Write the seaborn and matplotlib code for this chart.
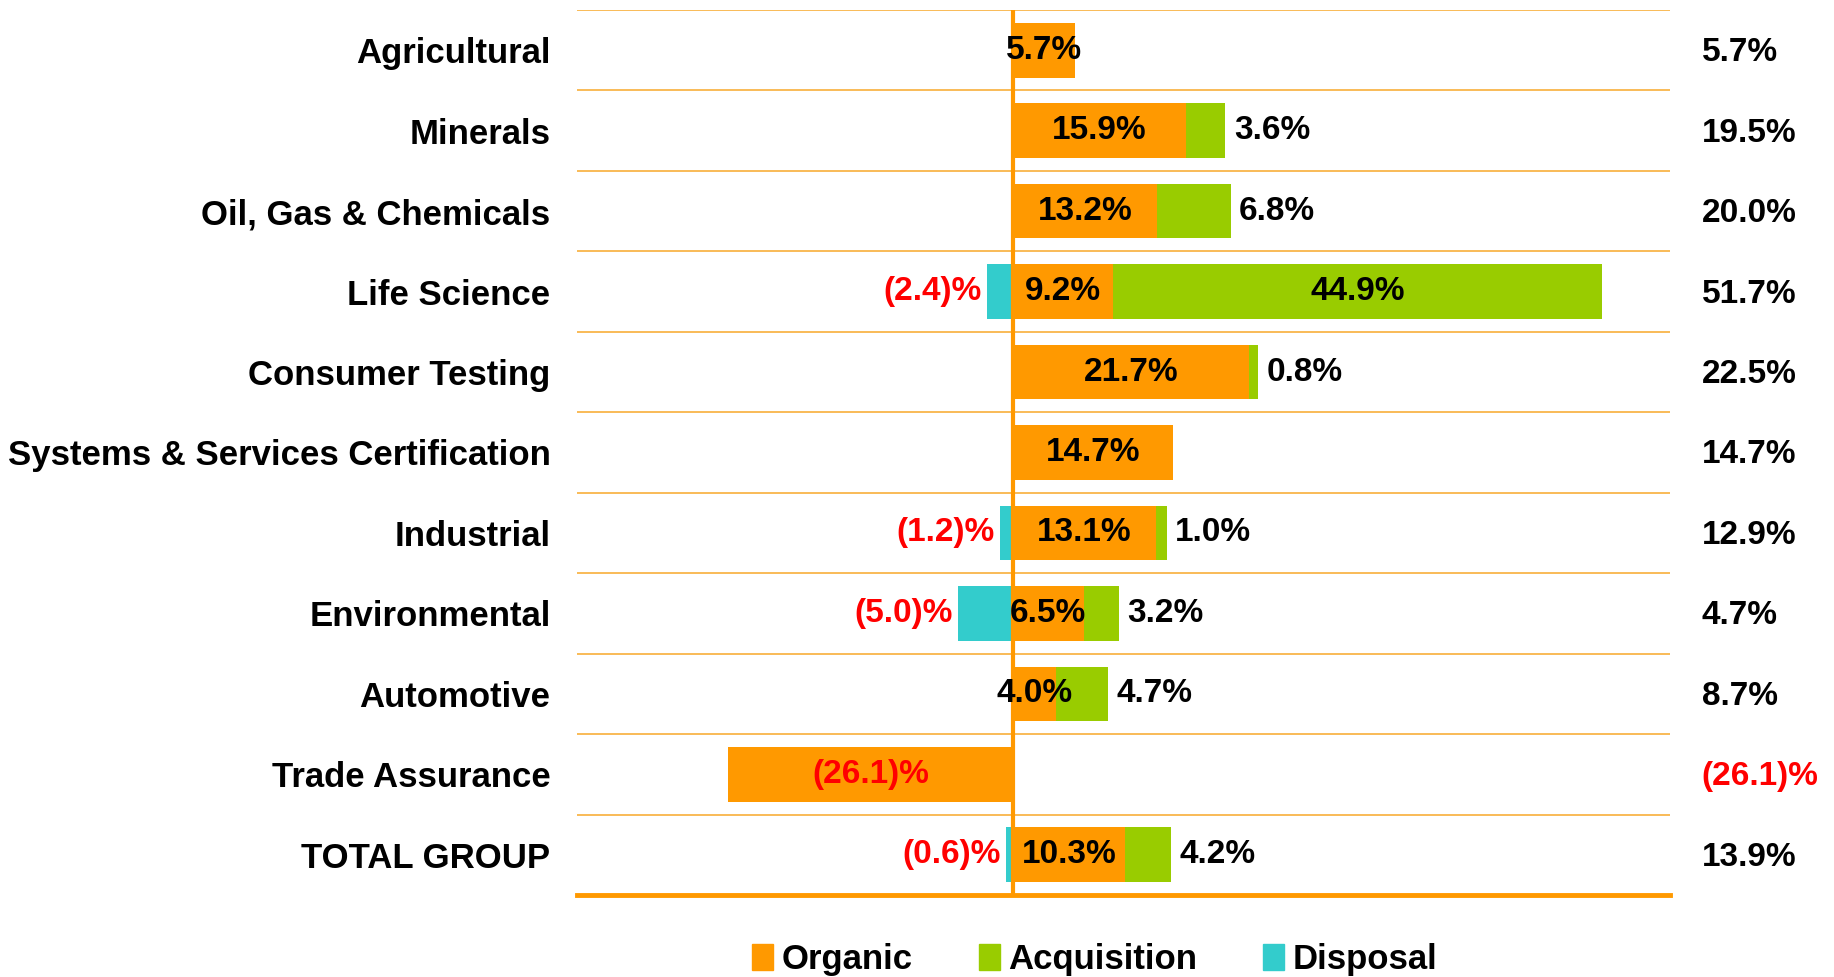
import pandas as pd
import seaborn as sns
import matplotlib.pyplot as plt
from matplotlib.patches import Patch

# data
categories = [
    "Agricultural",
    "Minerals",
    "Oil, Gas & Chemicals",
    "Life Science",
    "Consumer Testing",
    "Systems & Services Certification",
    "Industrial",
    "Environmental",
    "Automotive",
    "Trade Assurance",
    "TOTAL GROUP",
]
organic = [5.7, 15.9, 13.2, 9.2, 21.7, 14.7, 13.1, 6.5, 4.0, -26.1, 10.3]
acquisition = [0, 3.6, 6.8, 44.9, 0.8, 0, 1.0, 3.2, 4.7, 0, 4.2]
disposal = [0, 0, 0, -2.4, 0, 0, -1.2, -5.0, 0, 0, -0.6]
total = [5.7, 19.5, 20.0, 51.7, 22.5, 14.7, 12.9, 4.7, 8.7, -26.1, 13.9]

ORANGE = "#FF9900"
GREEN = "#99CC00"
CYAN = "#33CCCC"
GRID = "#F9B54A"

df = pd.DataFrame({
    "category": categories,
    "organic": organic,
    "acquisition": acquisition,
    "disposal": disposal,
    "total": total,
})
df["stack"] = df["organic"] + df["acquisition"]

sns.set_style("white")
plt.rcParams["font.family"] = ["Liberation Sans", "DejaVu Sans"]
plt.rcParams["font.weight"] = "bold"
plt.rcParams["text.color"] = "black"
plt.rcParams["ytick.color"] = "black"

fig = plt.figure(figsize=(18.34, 9.77), dpi=100)
ax = fig.add_axes([577 / 1834, 1 - 895 / 977, 1093 / 1834, 885 / 977])

# stacked bars: acquisition stack first, organic on top, disposal to the left
bar_kw = dict(y="category", order=categories, saturation=1, width=0.68,
              orient="h", ax=ax, linewidth=0)
sns.barplot(data=df, x="stack", color=GREEN, zorder=2, **bar_kw)
sns.barplot(data=df, x="organic", color=ORANGE, zorder=3, **bar_kw)
sns.barplot(data=df, x="disposal", color=CYAN, zorder=3, **bar_kw)

ax.set_xlim(-40, 60.3)
ax.set_ylim(len(categories) - 0.5, -0.5)
ax.set_xlabel("")
ax.set_ylabel("")
ax.set_xticks([])

# row separators
ax.set_yticks([i + 0.5 for i in range(-1, len(categories) - 1)], minor=True)
ax.grid(True, which="minor", axis="y", color=GRID, lw=1.3)
ax.tick_params(axis="y", which="both", length=0, pad=19, labelsize=25, labelcolor="black")
for t in ax.get_yticklabels():
    t.set_fontweight("bold")

for s in ["top", "left", "right"]:
    ax.spines[s].set_visible(False)
ax.spines["bottom"].set_color(ORANGE)
ax.spines["bottom"].set_linewidth(3.5)
ax.axvline(0, color=ORANGE, lw=3, zorder=5)

fs = 24
for i, row in df.iterrows():
    if row["organic"] != 0:
        col = "red" if row["organic"] < 0 else "black"
        lab = f"({abs(row['organic']):.1f})%" if row["organic"] < 0 else f"{row['organic']:.1f}%"
        ax.text(row["organic"] / 2, i, lab, ha="center", va="center",
                fontsize=fs, fontweight="bold", color=col, zorder=6)
    if row["acquisition"] > 10:
        ax.text(row["organic"] + row["acquisition"] / 2, i, f"{row['acquisition']:.1f}%",
                ha="center", va="center", fontsize=fs, fontweight="bold",
                color="black", zorder=6)
    elif row["acquisition"] > 0:
        ax.annotate(f"{row['acquisition']:.1f}%", (row["stack"], i), xytext=(6, 0),
                    textcoords="offset points", ha="left", va="center",
                    fontsize=fs, fontweight="bold", color="black", zorder=6)
    if row["disposal"] < 0:
        ax.annotate(f"({abs(row['disposal']):.1f})%", (row["disposal"], i), xytext=(-4, 0),
                    textcoords="offset points", ha="right", va="center",
                    fontsize=fs, fontweight="bold", color="red", zorder=6)
    tcol = "red" if row["total"] < 0 else "black"
    tlab = f"({abs(row['total']):.1f})%" if row["total"] < 0 else f"{row['total']:.1f}%"
    ax.text(1.029, i + 0.03, tlab, transform=ax.get_yaxis_transform(), ha="left", va="center",
            fontsize=fs, fontweight="bold", color=tcol)

handles = [Patch(color=ORANGE, label="Organic"),
           Patch(color=GREEN, label="Acquisition"),
           Patch(color=CYAN, label="Disposal")]
leg = fig.legend(handles=handles, loc="center", bbox_to_anchor=(0.597, 0.018), ncol=3,
                 frameon=False, handlelength=0.6, handleheight=0.75,
                 handletextpad=0.25, columnspacing=1.9, prop={"weight": "bold", "size": 25})
for t in leg.get_texts():
    t.set_color("black")

fig.savefig("out.png", dpi=100)
